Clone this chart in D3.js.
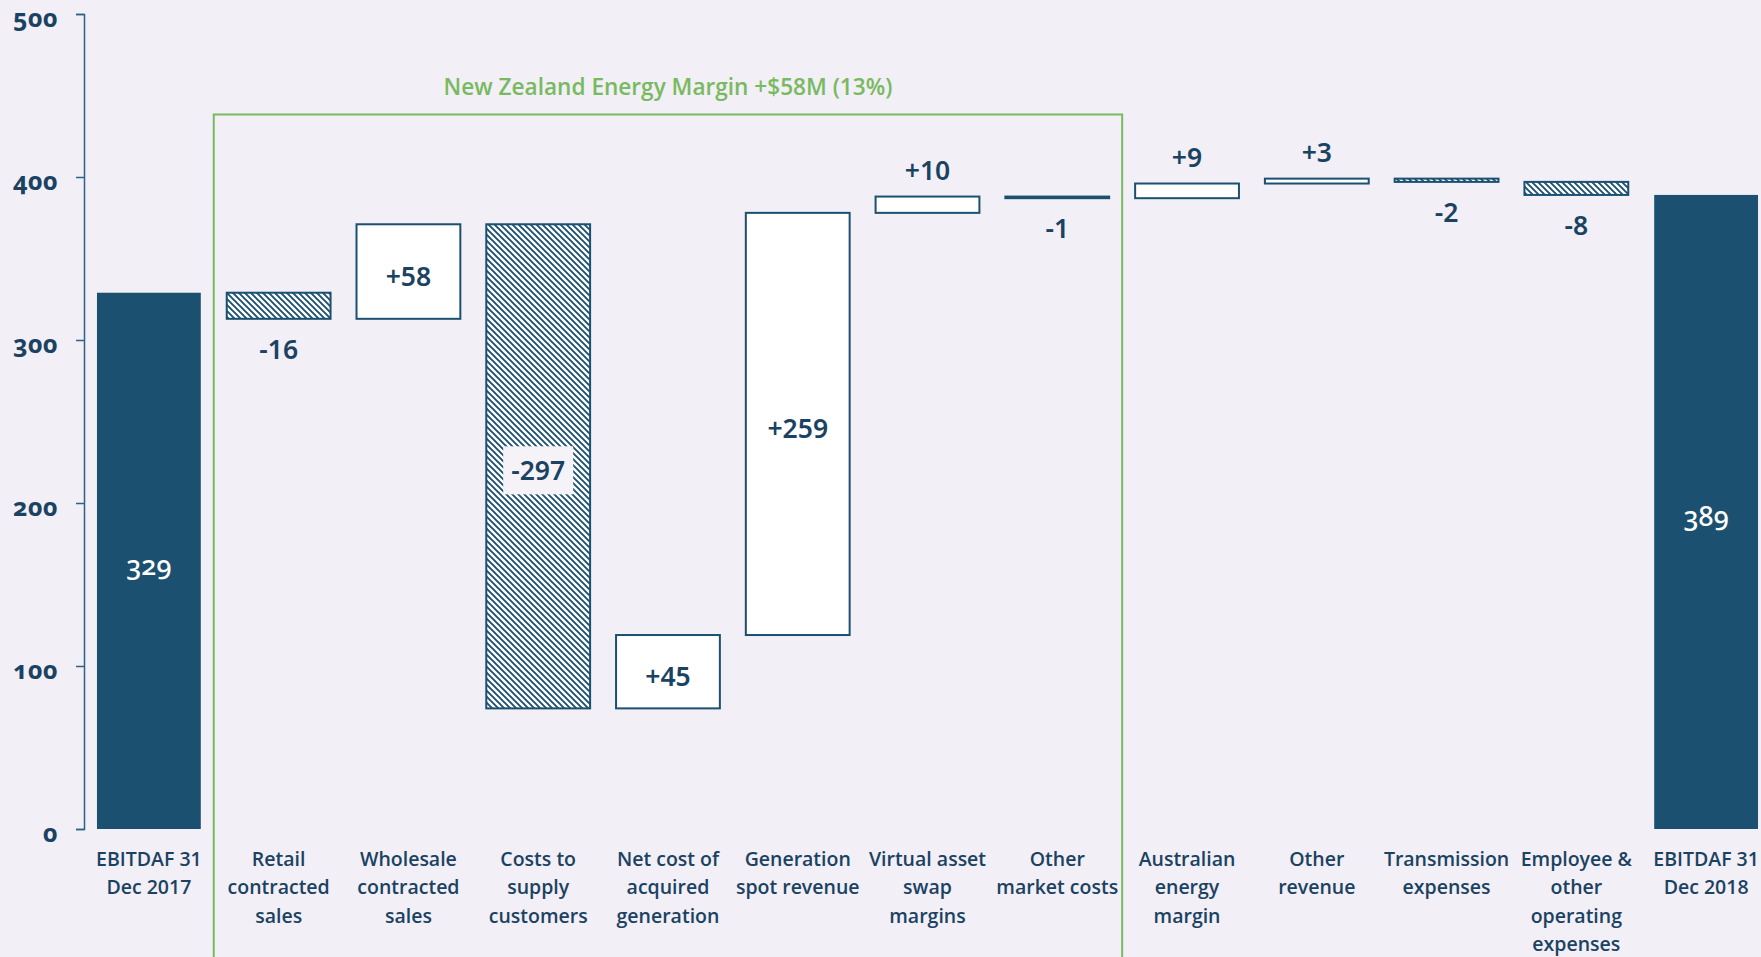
<!DOCTYPE html>
<html>
<head>
<meta charset="utf-8">
<script src="https://cdn.jsdelivr.net/npm/d3@7"></script>
<style>
  html, body { margin: 0; padding: 0; background: #f2eff6; overflow: hidden; }
  svg { display: block; }
</style>
</head>
<body>
<svg id="chart" width="1761" height="957"></svg>
<script>
// EBITDAF bridge, Dec 2017 -> Dec 2018 ($M)
const categories = [
  "EBITDAF 31 Dec 2017", "Retail contracted sales", "Wholesale contracted sales",
  "Costs to supply customers", "Net cost of acquired generation", "Generation spot revenue",
  "Virtual asset swap margins", "Other market costs", "Australian energy margin",
  "Other revenue", "Transmission expenses", "Employee & other operating expenses",
  "EBITDAF 31 Dec 2018"
];
const categoryLines = [
  ["EBITDAF 31", "Dec 2017"],
  ["Retail", "contracted", "sales"],
  ["Wholesale", "contracted", "sales"],
  ["Costs to", "supply", "customers"],
  ["Net cost of", "acquired", "generation"],
  ["Generation", "spot revenue"],
  ["Virtual asset", "swap", "margins"],
  ["Other", "market costs"],
  ["Australian", "energy", "margin"],
  ["Other", "revenue"],
  ["Transmission", "expenses"],
  ["Employee &", "other", "operating", "expenses"],
  ["EBITDAF 31", "Dec 2018"]
];
const openingValue = 329;
const changes = [-16, 58, -297, 45, 259, 10, -1, 9, 3, -2, -8];
const closingValue = 389;
const yTicks = [0, 100, 200, 300, 400, 500];
const groupTitle = "New Zealand Energy Margin +$58M (13%)";
const groupFirst = 1, groupLast = 7;   // indices of the NZ energy margin items

// colours
const BG = "#f2eff6", NAVY = "#1b5070", TEXT = "#1a4262", GREEN = "#78ba60";

// build waterfall steps
const steps = [];
let running = openingValue;
steps.push({ cat: categories[0], type: "total", start: 0, end: openingValue, value: openingValue });
changes.forEach((c, i) => {
  steps.push({ cat: categories[i + 1], type: c >= 0 ? "up" : "down", start: running, end: running + c, value: c });
  running += c;
});
steps.push({ cat: categories[categories.length - 1], type: "total", start: 0, end: closingValue, value: closingValue });

const svg = d3.select("#chart");

const x = d3.scaleBand().domain(categories).range([84, 1771]).paddingInner(0.2).paddingOuter(0.1);
const y = d3.scaleLinear().domain([0, 500]).range([829, 14]);

// hatch pattern for negative movements
const defs = svg.append("defs");
const pat = defs.append("pattern").attr("id", "hatch").attr("patternUnits", "userSpaceOnUse")
  .attr("width", 6).attr("height", 6);
pat.append("rect").attr("width", 6).attr("height", 6).attr("fill", "#ffffff");
pat.append("path").attr("d", "M0,0 L6,6 M-1,5 L1,7 M5,-1 L7,1")
  .attr("stroke", NAVY).attr("stroke-width", 1.9);

// group frame around NZ energy margin items
const step = x.step(), gap = step - x.bandwidth();
const gx0 = x(categories[groupFirst]) - gap / 2;
const gx1 = x(categories[groupLast]) + x.bandwidth() + gap / 2;
svg.append("rect")
  .attr("x", gx0).attr("y", 114.5).attr("width", gx1 - gx0).attr("height", 900)
  .attr("fill", "none").attr("stroke", GREEN).attr("stroke-width", 2);
svg.append("text")
  .attr("x", (gx0 + gx1) / 2).attr("y", 86)
  .attr("text-anchor", "middle").attr("dominant-baseline", "central")
  .attr("fill", GREEN).attr("font-family", "'Open Sans', sans-serif")
  .attr("font-weight", 600).attr("font-size", 22.6)
  .text(groupTitle);

// y axis
const axis = d3.axisLeft(y).tickValues(yTicks).tickSize(8).tickPadding(18).tickSizeOuter(8);
const ga = svg.append("g").attr("transform", "translate(84,0)").call(axis);
ga.select(".domain").attr("stroke", "#2d6186").attr("stroke-width", 1.5);
ga.selectAll(".tick line").attr("stroke", "#2d6186").attr("stroke-width", 1.5);
ga.selectAll(".tick text")
  .attr("dy", 12)
  .attr("fill", TEXT).attr("font-family", "'Noto Sans', sans-serif")
  .attr("font-weight", 700).attr("font-size", 25)
  .style("font-variant-numeric", "oldstyle-nums").style("letter-spacing", "0.4px");

// bars
svg.append("g").selectAll("rect").data(steps).join("rect")
  .attr("x", d => x(d.cat))
  .attr("width", x.bandwidth())
  .attr("y", d => y(Math.max(d.start, d.end)))
  .attr("height", d => Math.max(1.5, Math.abs(y(d.start) - y(d.end))))
  .attr("fill", d => d.type === "total" ? NAVY : d.type === "up" ? "#ffffff" : "url(#hatch)")
  .attr("stroke", NAVY)
  .attr("stroke-width", d => d.type === "total" ? 0 : 2);

// value labels
const fmt = d => d.type === "total" ? String(d.value) : (d.value > 0 ? "+" : "-") + Math.abs(d.value);
const labels = svg.append("g");
steps.forEach(d => {
  const top = y(Math.max(d.start, d.end)), bot = y(Math.min(d.start, d.end));
  const h = bot - top;
  const inside = h > 60;
  let ly;
  if (inside) ly = (top + bot) / 2 + 4;
  else if (d.value > 0) ly = top - 27;
  else ly = bot + 30;
  const cx = x(d.cat) + x.bandwidth() / 2;
  const t = labels.append("text")
    .attr("x", cx).attr("y", ly)
    .attr("text-anchor", "middle").attr("dominant-baseline", "central")
    .attr("fill", d.type === "total" ? "#ffffff" : TEXT)
    .attr("font-family", "'Noto Sans', sans-serif")
    .attr("font-weight", d.type === "total" ? 500 : 600)
    .attr("font-size", d.type === "total" ? 27 : 26.5)
    .style("font-variant-numeric", d.type === "total" ? "oldstyle-nums" : "lining-nums")
    .text(fmt(d));
  if (inside && d.type === "down") {
    const bb = t.node().getBBox();
    labels.insert("rect", "text")
      .attr("x", bb.x - 8).attr("y", ly - 24).attr("width", bb.width + 16).attr("height", 48)
      .attr("fill", "#f5f3f8");
  }
});

// category labels
const cl = svg.append("g");
steps.forEach((d, i) => {
  const t = cl.append("text")
    .attr("x", x(d.cat) + x.bandwidth() / 2)
    .attr("y", 866)
    .attr("text-anchor", "middle")
    .attr("fill", TEXT)
    .attr("font-family", "'Open Sans', sans-serif")
    .attr("font-weight", 600)
    .attr("font-size", 19.5);
  categoryLines[i].forEach((line, k) => {
    t.append("tspan").attr("x", x(d.cat) + x.bandwidth() / 2).attr("dy", k === 0 ? 0 : 28.3).text(line);
  });
});
</script>
</body>
</html>
